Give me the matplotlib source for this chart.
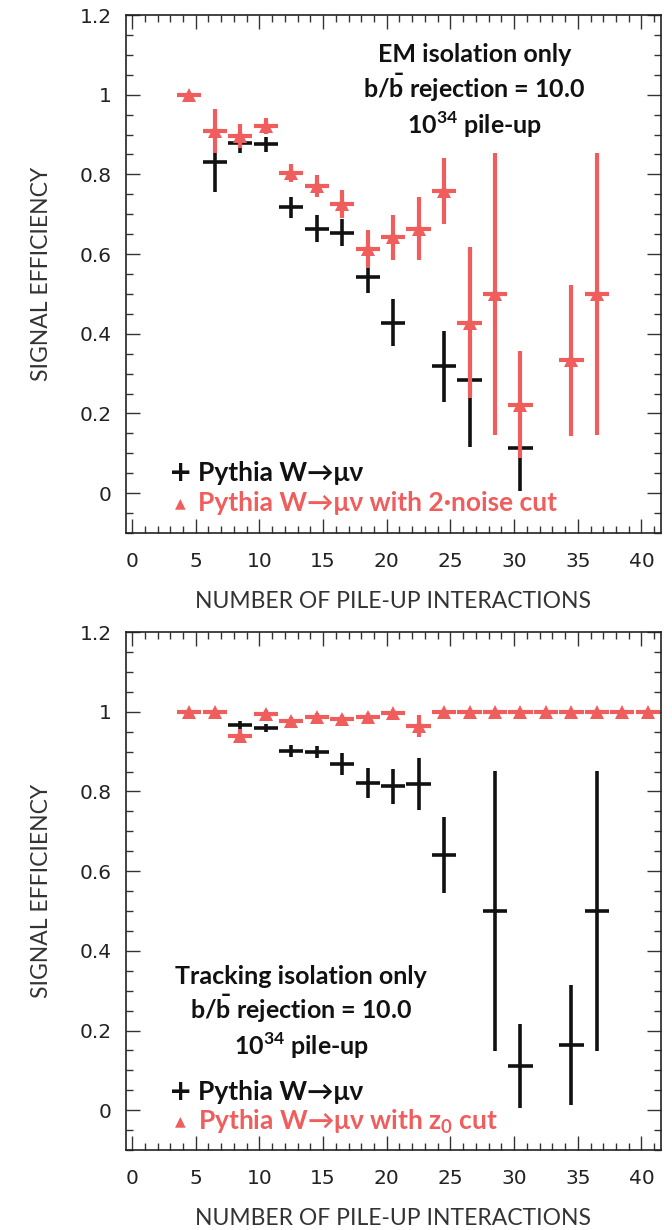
import numpy as np
import matplotlib
matplotlib.use('Agg')
import matplotlib.pyplot as plt
from matplotlib.ticker import MultipleLocator, FormatStrFormatter

plt.rcParams['font.family'] = ['Lato', 'DejaVu Sans']
plt.rcParams['mathtext.fontset'] = 'custom'
plt.rcParams['mathtext.bf'] = 'Lato:bold'
plt.rcParams['mathtext.rm'] = 'Lato'

RED = '#ef5d5d'
BLK = '#111111'

# ---- top panel: EM isolation ----
em_x = [6.5, 8.5, 10.5, 12.5, 14.5, 16.5, 18.5, 20.5, 24.5, 26.5, 30.5]
em_y = [0.83, 0.879, 0.875, 0.717, 0.664, 0.654, 0.542, 0.428, 0.318, 0.284, 0.114]
em_err = [0.075, 0.025, 0.02, 0.027, 0.033, 0.035, 0.04, 0.06, 0.09, 0.168, 0.108]

emc_x = [4.5, 6.5, 8.5, 10.5, 12.5, 14.5, 16.5, 18.5, 20.5, 22.5, 24.5, 26.5, 28.5, 30.5, 34.5, 36.5]
emc_y = [1.0, 0.908, 0.896, 0.921, 0.804, 0.771, 0.725, 0.613, 0.642, 0.664, 0.758, 0.428, 0.5, 0.222, 0.333, 0.5]
emc_err = [0.005, 0.055, 0.03, 0.02, 0.023, 0.028, 0.035, 0.048, 0.056, 0.08, 0.082, 0.19, 0.354, 0.135, 0.19, 0.354]

# ---- bottom panel: tracking isolation ----
tr_x = [8.5, 10.5, 12.5, 14.5, 16.5, 18.5, 20.5, 22.5, 24.5, 28.5, 30.5, 34.5, 36.5]
tr_y = [0.966, 0.960, 0.901, 0.899, 0.869, 0.821, 0.813, 0.819, 0.640, 0.5, 0.111, 0.164, 0.5]
tr_err = [0.01, 0.01, 0.015, 0.015, 0.027, 0.038, 0.044, 0.065, 0.095, 0.352, 0.105, 0.15, 0.352]

trc_x = [4.5, 6.5, 8.5, 10.5, 12.5, 14.5, 16.5, 18.5, 20.5, 22.5, 24.5, 26.5, 28.5, 30.5, 32.5, 34.5, 36.5, 38.5, 40.5]
trc_y = [1.0, 1.0, 0.939, 0.994, 0.977, 0.986, 0.981, 0.987, 0.998, 0.965, 1.0, 1.0, 1.0, 1.0, 1.0, 1.0, 1.0, 1.0, 1.0]
trc_err = [0, 0, 0.018, 0.01, 0.01, 0.01, 0.01, 0.01, 0.005, 0.028, 0, 0, 0, 0, 0, 0, 0, 0, 0]

fig = plt.figure(figsize=(6.72, 12.3), dpi=100)
ax1 = fig.add_axes([0.187, 0.5667, 0.796, 0.4211])
ax2 = fig.add_axes([0.187, 0.065, 0.796, 0.4211])


def style(ax):
    ax.set_xlim(-0.5, 41.5)
    ax.set_ylim(-0.1, 1.2)
    ax.xaxis.set_major_locator(MultipleLocator(5))
    ax.xaxis.set_minor_locator(MultipleLocator(1))
    ax.yaxis.set_major_locator(MultipleLocator(0.2))
    ax.yaxis.set_minor_locator(MultipleLocator(0.05))
    ax.yaxis.set_major_formatter(FormatStrFormatter('%g'))
    ax.tick_params(which='both', direction='in', top=True, right=True, width=1.0, colors='#333333')
    ax.tick_params(which='major', length=10)
    ax.tick_params(which='minor', length=5)
    ax.tick_params(axis='x', which='major', pad=14)
    ax.tick_params(axis='y', which='major', pad=10)
    for lab in ax.get_xticklabels() + ax.get_yticklabels():
        lab.set_fontfamily('DejaVu Sans')
        lab.set_fontsize(14.5)
        lab.set_color('#222222')
    for s in ax.spines.values():
        s.set_linewidth(1.2)
        s.set_color('#222222')
    ax.set_ylabel('SIGNAL EFFICIENCY', fontsize=16.5, color='#333333', labelpad=20)
    ax.set_xlabel('NUMBER OF PILE-UP INTERACTIONS', fontsize=16.5, color='#333333', labelpad=14)


def draw(ax, bx, by, be, rx, ry, re):
    ax.errorbar(bx, by, xerr=0.95, yerr=be, fmt='none', ecolor=BLK, elinewidth=2.6, capsize=0, zorder=2)
    ax.errorbar(rx, ry, xerr=0.95, yerr=re, fmt='^', color=RED, ecolor=RED, elinewidth=3.0,
                markersize=9.5, markeredgewidth=0, capsize=0, zorder=3)


def legend(ax, yb, yr, red_label):
    ax.text(0.102, yb, '+', transform=ax.transAxes, ha='center', va='center',
            fontsize=20, fontweight='bold', color=BLK, family='DejaVu Sans')
    ax.text(0.102, yr, '▲', transform=ax.transAxes, ha='center', va='center',
            fontsize=10, color=RED, family='DejaVu Sans')
    ax.text(0.135, yb, 'Pythia W→μν', transform=ax.transAxes, ha='left', va='center',
            fontsize=19, fontweight='bold', color=BLK)
    ax.text(0.135, yr, red_label, transform=ax.transAxes, ha='left', va='center',
            fontsize=19, fontweight='bold', color=RED)


style(ax1)
style(ax2)
draw(ax1, em_x, em_y, em_err, emc_x, emc_y, emc_err)
draw(ax2, tr_x, tr_y, tr_err, trc_x, trc_y, trc_err)

ax1.text(0.652, 0.945, 'EM isolation only\nb/$\\mathbf{\\bar{b}}$ rejection = 10.0\n10$^{\\mathbf{34}}$ pile-up',
         transform=ax1.transAxes, ha='center', va='top', fontsize=18, fontweight='bold',
         linespacing=1.2, color=BLK)
legend(ax1, 0.116, 0.058, 'Pythia W→μν with 2·noise cut')

ax2.text(0.328, 0.358, 'Tracking isolation only\nb/$\\mathbf{\\bar{b}}$ rejection = 10.0\n10$^{\\mathbf{34}}$ pile-up',
         transform=ax2.transAxes, ha='center', va='top', fontsize=18, fontweight='bold',
         linespacing=1.2, color=BLK)
legend(ax2, 0.112, 0.055, 'Pythia W→μν with z$_{\\mathbf{0}}$ cut')

plt.savefig('out.png', dpi=100)
